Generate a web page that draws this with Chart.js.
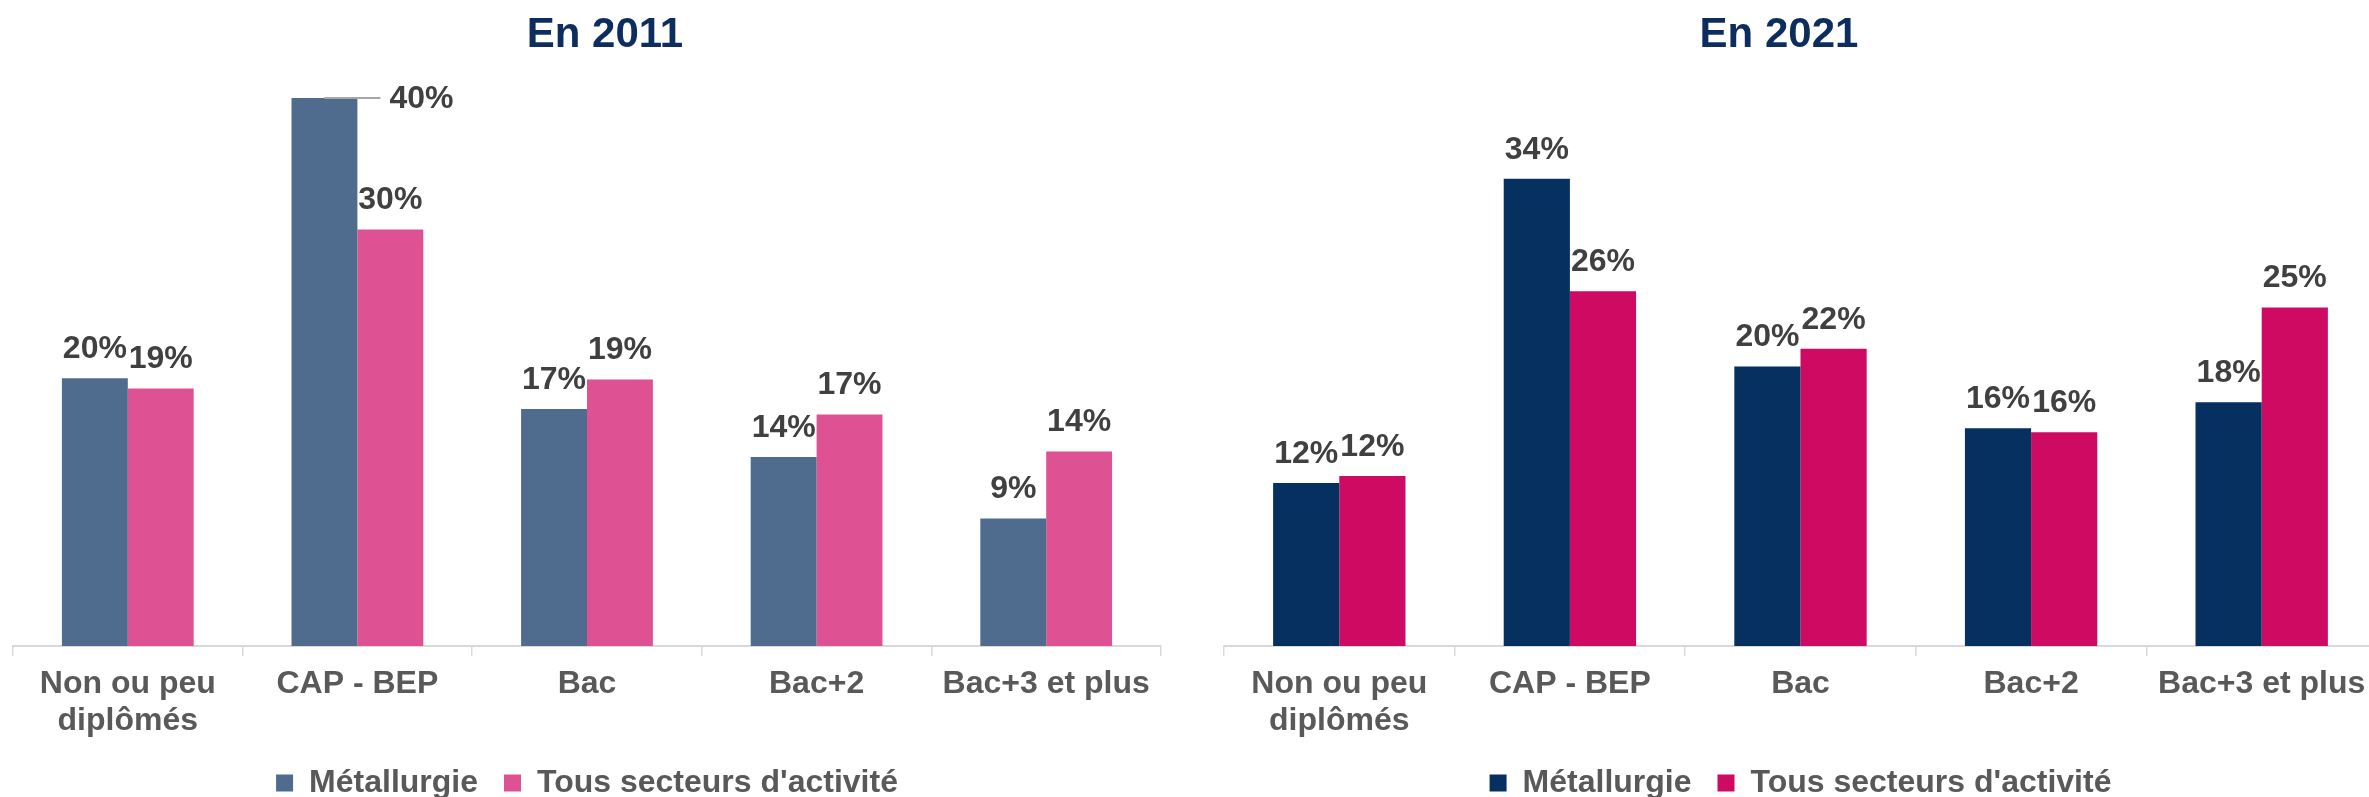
<!DOCTYPE html>
<html lang="fr">
<head>
<meta charset="utf-8">
<title>Niveau de diplôme - Métallurgie</title>
<script src="https://cdn.jsdelivr.net/npm/chart.js@4.4.1/dist/chart.umd.min.js"></script>
<style>
  html, body { margin: 0; padding: 0; background: #fff; overflow: hidden; }
  body { position: relative; width: 2369px; height: 797px; }
  .bloc { position: absolute; top: 0; height: 797px; overflow: hidden; }
  .titre {
    position: absolute; top: 12px; margin: 0;
    font: bold 42px/42px "Liberation Sans", Arial, sans-serif;
    color: #0e2d5f; text-align: center;
  }
</style>
</head>
<body>
<div class="bloc" style="left:0;width:1190px"><canvas id="chart2011" width="1190" height="809"></canvas></div>
<div class="bloc" style="left:1190px;width:1179px"><canvas id="chart2021" width="1190" height="809"></canvas></div>
<h2 class="titre" style="left:0;width:1210px">En 2011</h2>
<h2 class="titre" style="left:1189px;width:1180px">En 2021</h2>

<script>
/* ======================================================
   DONNEES
====================================================== */
const categories = [["Non ou peu", "diplômés"], "CAP - BEP", "Bac", "Bac+2", "Bac+3 et plus"];
const series = ["Métallurgie", "Tous secteurs d'activité"];

const metallurgie2011 = [19.55, 40, 17.3, 13.8, 9.3];
const tousSecteurs2011 = [18.8, 30.4, 19.45, 16.9, 14.2];

const metallurgie2021 = [11.9, 34.1, 20.4, 15.9, 17.8];
const tousSecteurs2021 = [12.4, 25.9, 21.7, 15.6, 24.7];

/* ======================================================
   COULEURS / POLICE
====================================================== */
const COULEURS = {
  bleu2011: "#4f6c8f",
  rose2011: "#de5293",
  bleu2021: "#06305f",
  rose2021: "#cf0a62",
  texte: "#595959",
  etiquette: "#404040",
  axe: "#d9d9d9"
};
const POLICE = "'Liberation Sans', Arial, sans-serif";

/* ======================================================
   ETIQUETTES DE VALEURS
====================================================== */
const etiquettes = {
  id: "etiquettes",
  afterDatasetsDraw(chart, args, opts) {
    const ctx = chart.ctx;
    ctx.save();
    ctx.font = "bold 32px " + POLICE;
    ctx.fillStyle = COULEURS.etiquette;
    ctx.textBaseline = "middle";
    chart.data.datasets.forEach((ds, d) => {
      chart.getDatasetMeta(d).data.forEach((bar, i) => {
        const txt = Math.round(ds.data[i]) + "%";
        const r = opts.renvoi;
        if (r && r.dataset === d && r.index === i) {
          // etiquette deportee a droite avec un trait de rappel
          const droite = bar.x + bar.width / 2;
          ctx.strokeStyle = "#a6a6a6";
          ctx.lineWidth = 2;
          ctx.beginPath();
          ctx.moveTo(bar.x, bar.y);
          ctx.lineTo(droite + 23, bar.y);
          ctx.stroke();
          ctx.textAlign = "left";
          ctx.fillText(txt, droite + 32, bar.y + 1);
        } else {
          ctx.textAlign = "center";
          ctx.fillText(txt, bar.x, bar.y - 29);
        }
      });
    });
    ctx.restore();
  }
};

/* ======================================================
   GRAPHIQUES
====================================================== */
function creerGraphique(id, valeursA, valeursB, couleurA, couleurB, padG, padD, renvoi) {
  return new Chart(document.getElementById(id), {
    type: "bar",
    data: {
      labels: categories,
      datasets: [
        { label: series[0], data: valeursA, backgroundColor: couleurA, borderWidth: 0 },
        { label: series[1], data: valeursB, backgroundColor: couleurB, borderWidth: 0 }
      ]
    },
    options: {
      responsive: false,
      animation: false,
      categoryPercentage: 0.574,
      barPercentage: 1,
      layout: { padding: { top: 98, left: padG, right: padD, bottom: 0 } },
      scales: {
        x: {
          grid: {
            display: true,
            drawOnChartArea: false,
            drawTicks: true,
            tickLength: 10,
            offset: true,
            color: COULEURS.axe,
            lineWidth: 1.5
          },
          border: { display: true, color: COULEURS.axe, width: 2 },
          ticks: {
            color: COULEURS.texte,
            padding: 9.5,
            maxRotation: 0,
            autoSkip: false,
            font: { family: POLICE, size: 32, weight: "bold", lineHeight: 1.17 }
          },
          afterFit(scale) { scale.height = 95; }
        },
        y: { display: false, min: 0, max: 40 }
      },
      plugins: {
        title: { display: false },
        tooltip: { enabled: false },
        legend: {
          position: "bottom",
          labels: {
            color: COULEURS.texte,
            boxWidth: 17,
            boxHeight: 17,
            padding: 26,
            font: { family: POLICE, size: 32, weight: "bold" }
          }
        },
        etiquettes: { renvoi: renvoi }
      }
    },
    plugins: [etiquettes]
  });
}

/* ======================================================
   INIT
====================================================== */
creerGraphique("chart2011", metallurgie2011, tousSecteurs2011,
  COULEURS.bleu2011, COULEURS.rose2011, 13, 29, { dataset: 0, index: 1 });
creerGraphique("chart2021", metallurgie2021, tousSecteurs2021,
  COULEURS.bleu2021, COULEURS.rose2021, 34, 3, null);
</script>
</body>
</html>
